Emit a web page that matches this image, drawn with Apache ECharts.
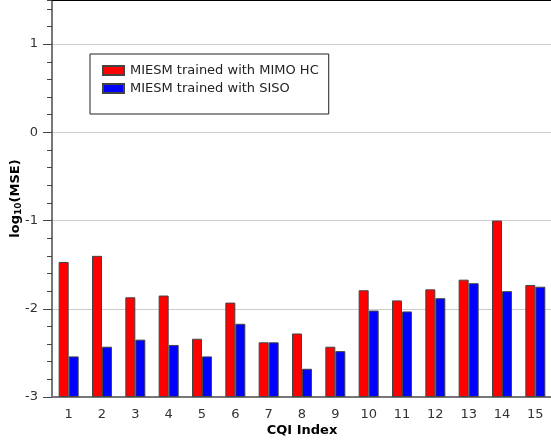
<!DOCTYPE html>
<html>
<head>
<meta charset="utf-8">
<script src="https://cdn.jsdelivr.net/npm/echarts@6/dist/echarts.min.js"></script>
<style>html,body{margin:0;padding:0;background:#fff}#c{width:551px;height:443px}</style>
</head>
<body>
<div id="c"></div>
<script>
var categories = ['1','2','3','4','5','6','7','8','9','10','11','12','13','14','15'];
var mimoHC = [-1.47,-1.40,-1.87,-1.85,-2.34,-1.93,-2.38,-2.28,-2.43,-1.79,-1.905,-1.78,-1.67,-1.00,-1.73];
var siso   = [-2.54,-2.43,-2.35,-2.41,-2.54,-2.17,-2.38,-2.68,-2.48,-2.02,-2.03,-1.88,-1.71,-1.80,-1.75];
var yMin = -3, yMax = 1.5;
var BASE = yMin; // bars grow from the bottom of the axis

function shift(arr){ return arr.map(function(v){ return +(v - BASE).toFixed(4); }); }

var font = 'DejaVu Sans';
var chart = echarts.init(document.getElementById('c'), null, {renderer:'canvas'});
chart.setOption({
  animation: false,
  textStyle: {fontFamily: font},
  grid: {left: 52, right: -1, top: 0, bottom: 46, containLabel: false, outerBoundsMode: 'none'},
  legend: {
    orient: 'vertical', left: 90, top: 54,
    padding: [10, 10, 19, 12], itemGap: 5,
    borderColor: '#222', borderWidth: 1, backgroundColor: '#fff',
    itemWidth: 21, itemHeight: 9, icon: 'rect',
    textStyle: {fontFamily: font, fontSize: 13, color: '#222', padding: [0,0,0,1]},
    data: ['MIESM trained with MIMO HC', 'MIESM trained with SISO']
  },
  xAxis: [{
    type: 'category', data: categories, position: 'bottom',
    axisLine: {onZero: false, lineStyle: {color: '#777', width: 2}},
    axisTick: {alignWithLabel: true, length: 6, lineStyle: {color: '#000'}},
    axisLabel: {fontFamily: font, fontSize: 13, color: '#333', margin: 11},
    name: 'CQI Index', nameLocation: 'middle', nameGap: 27, nameMoveOverlap: false,
    nameTextStyle: {fontFamily: font, fontSize: 13, fontWeight: 'bold', color: '#000'}
  }, {
    type: 'category', data: categories, position: 'top',
    axisLine: {onZero: false, lineStyle: {color: '#000', width: 2}},
    axisTick: {show: false}, axisLabel: {show: false}
  }],
  yAxis: [{
    type: 'value', min: yMin - BASE, max: yMax - BASE, interval: 1, position: 'left',
    axisLine: {show: true, onZero: false, lineStyle: {color: '#777', width: 2}},
    axisTick: {show: true, length: 9, lineStyle: {color: '#444'}},
    axisLabel: {fontFamily: font, fontSize: 13, color: '#333', margin: 14, showMaxLabel: false,
      formatter: function(v){ return String(Math.round(v + BASE)); }},
    splitLine: {show: true, lineStyle: {color: '#ccc', width: 1}},
    name: '{a|log}{b|10}{a|(MSE)}', nameLocation: 'middle', nameGap: 29, nameMoveOverlap: false,
    nameTextStyle: {fontFamily: font, fontSize: 13, fontWeight: 'bold', color: '#000',
      rich: {a: {fontFamily: font, fontSize: 13, fontWeight: 'bold', color: '#000'},
             b: {fontFamily: font, fontSize: 9, fontWeight: 'bold', color: '#000', padding: [5,0,0,0]}}}
  }, {
    type: 'value', min: yMin - BASE, max: yMax - BASE, interval: 0.2, position: 'left',
    axisLine: {show: false, onZero: false},
    axisTick: {show: true, length: 5, lineStyle: {color: '#444'}},
    axisLabel: {show: false}, splitLine: {show: false}
  }],
  series: [{
    name: 'MIESM trained with MIMO HC', type: 'bar', data: shift(mimoHC),
    barWidth: 10, barGap: '0%',
    itemStyle: {color: '#ff0000', borderColor: '#444', borderWidth: 1}
  }, {
    name: 'MIESM trained with SISO', type: 'bar', data: shift(siso),
    barWidth: 10, barGap: '0%',
    itemStyle: {color: '#0000ff', borderColor: '#444', borderWidth: 1}
  }]
});
</script>
</body>
</html>
